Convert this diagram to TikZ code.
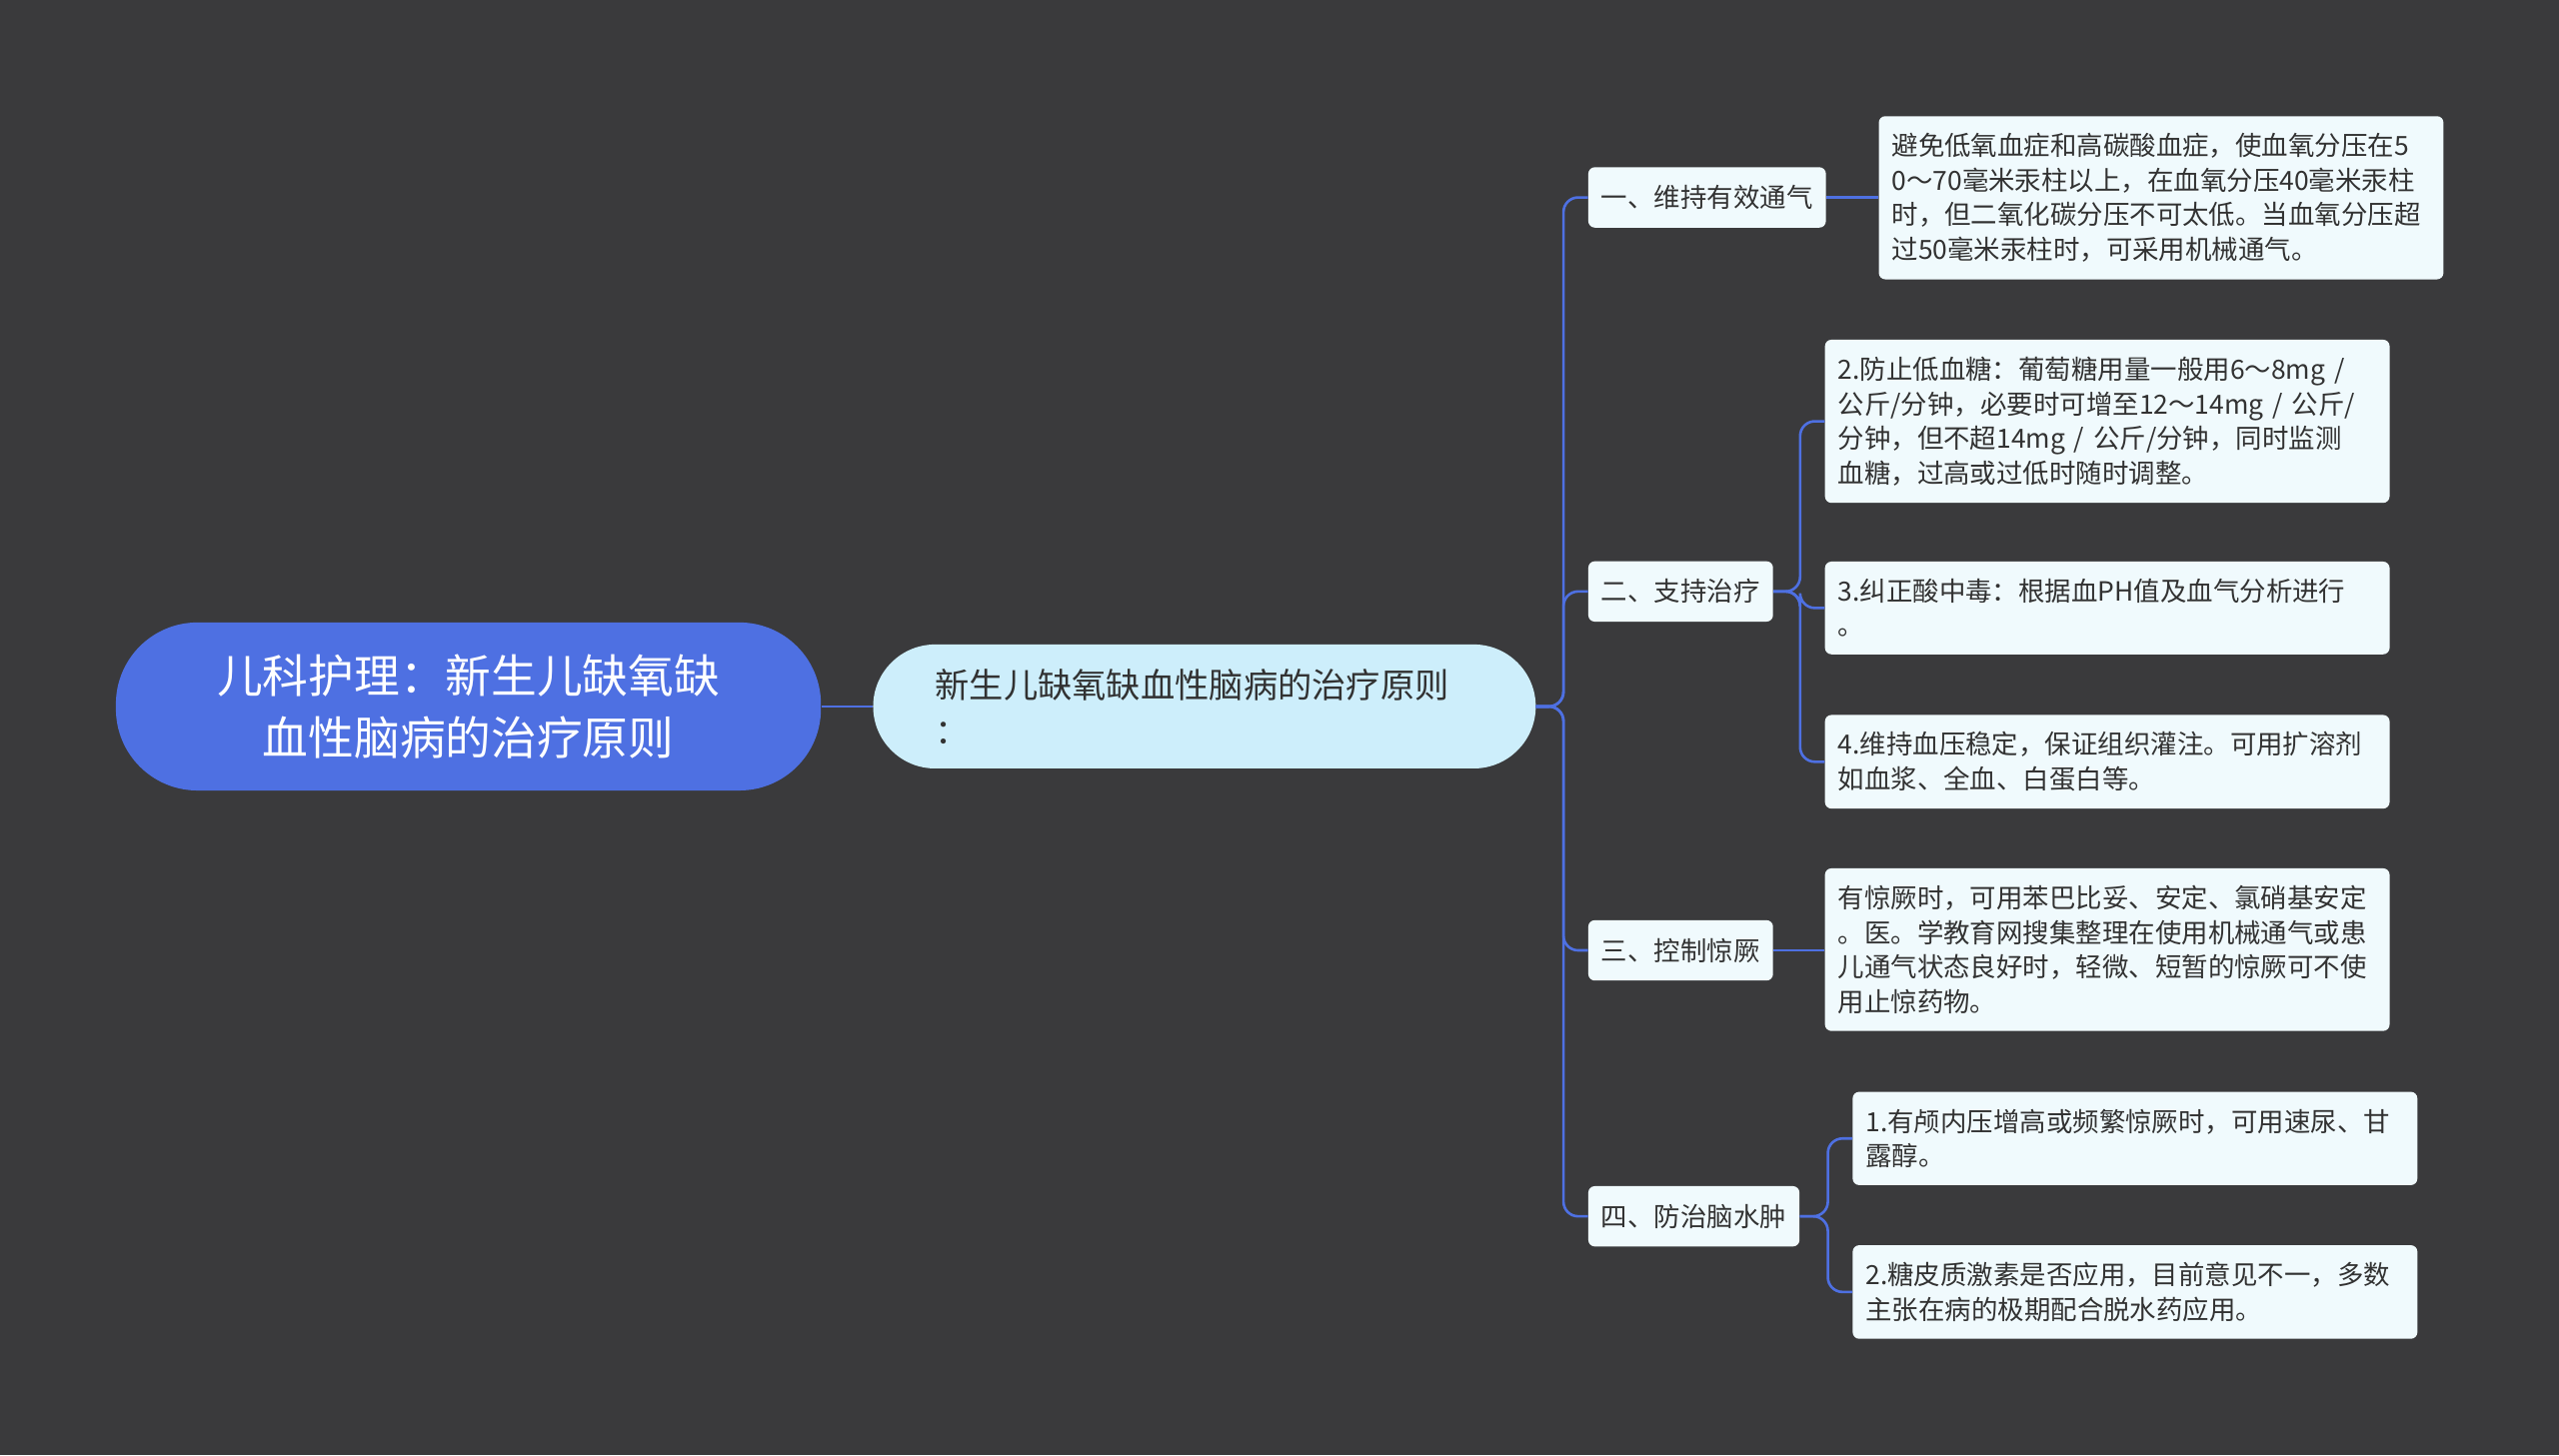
\documentclass[tikz,border=0pt]{standalone}
\usepackage{fontspec}
\setmainfont{Noto Sans CJK SC}
\definecolor{bg}{RGB}{58,58,60}
\definecolor{bl}{RGB}{78,112,226}
\definecolor{lf}{RGB}{240,250,253}
\definecolor{cf}{RGB}{205,238,251}
\definecolor{tx}{RGB}{50,50,50}
\begin{document}
\begin{tikzpicture}[x=1pt,y=-1pt,
  ln/.style={draw=bl,line width=1.6pt,rounded corners=9pt},
  leaf/.style={fill=lf,rounded corners=4pt,text width=330pt,inner xsep=8pt,inner ysep=10.5pt,align=left,font=\fontsize{16.2}{21.2}\selectfont,text=tx,anchor=north west},
  lvl/.style={fill=lf,rounded corners=4pt,inner xsep=8pt,minimum height=37pt,font=\fontsize{16.2}{21}\selectfont,text=tx,anchor=west}]
\fill[bg] (0,0) rectangle (1568,892);
\useasboundingbox (0,0) rectangle (1568,892);
\node[fill=bl,rounded corners=50pt,minimum width=432pt,minimum height=103pt,align=center,text=white,font=\fontsize{28}{38}\selectfont] (r) at (287,433) {儿科护理：新生儿缺氧缺\\血性脑病的治疗原则};
\node[fill=cf,rounded corners=38pt,minimum width=406pt,minimum height=76pt,text width=330pt,align=left,font=\fontsize{21}{28}\selectfont,text=tx] (c) at (738,433) {新生儿缺氧缺血性脑病的治疗原则\\：};
\draw[ln] (r.east) -- (c.west);
\node[lvl] (a) at (973,121) {一、维持有效通气};
\node[lvl] (b) at (973,362.5) {二、支持治疗};
\node[lvl] (d) at (973,582.5) {三、控制惊厥};
\node[lvl] (e) at (973,745.5) {四、防治脑水肿};
\coordinate (j) at (958,433);
\foreach \n in {a,b,d,e} \draw[ln] (c.east) -- (j) |- (\n.west);
\node[leaf] (a1) at (1151,71) {避免低氧血症和高碳酸血症，使血氧分压在5\\0～70毫米汞柱以上，在血氧分压40毫米汞柱\\时，但二氧化碳分压不可太低。当血氧分压超\\过50毫米汞柱时，可采用机械通气。};
\node[leaf] (b1) at (1118,208) {2.防止低血糖：葡萄糖用量一般用6～8mg /\\公斤/分钟，必要时可增至12～14mg / 公斤/\\分钟，但不超14mg / 公斤/分钟，同时监测\\血糖，过高或过低时随时调整。};
\node[leaf] (b2) at (1118,344) {3.纠正酸中毒：根据血PH值及血气分析进行\\。};
\node[leaf] (b3) at (1118,438) {4.维持血压稳定，保证组织灌注。可用扩溶剂\\如血浆、全血、白蛋白等。};
\node[leaf] (d1) at (1118,532) {有惊厥时，可用苯巴比妥、安定、氯硝基安定\\。医。学教育网搜集整理在使用机械通气或患\\儿通气状态良好时，轻微、短暂的惊厥可不使\\用止惊药物。};
\node[leaf] (e1) at (1135,669) {1.有颅内压增高或频繁惊厥时，可用速尿、甘\\露醇。};
\node[leaf] (e2) at (1135,763) {2.糖皮质激素是否应用，目前意见不一，多数\\主张在病的极期配合脱水药应用。};
\draw[ln] (a.east) -- (a1.west|-a.east);
\draw[ln] (d.east) -- (d1.west|-d.east);
\coordinate (jb) at (1103,362.5);
\foreach \n in {b1,b2,b3} \draw[ln] (b.east) -- (jb) |- (\n.west);
\coordinate (je) at (1120,745.5);
\foreach \n in {e1,e2} \draw[ln] (e.east) -- (je) |- (\n.west);
\end{tikzpicture}
\end{document}
